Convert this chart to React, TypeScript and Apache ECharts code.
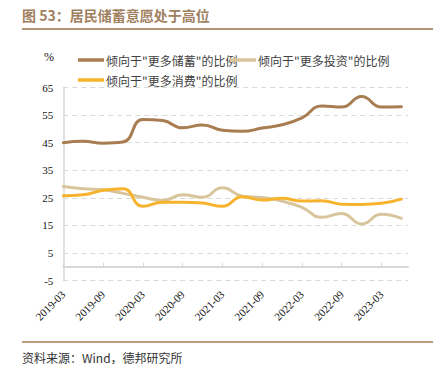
import React, { useEffect, useRef } from 'react';
import * as echarts from 'echarts';

const quarters = [
  '2019-03', '2019-06', '2019-09', '2019-12',
  '2020-03', '2020-06', '2020-09', '2020-12',
  '2021-03', '2021-06', '2021-09', '2021-12',
  '2022-03', '2022-06', '2022-09', '2022-12',
  '2023-03', '2023-06',
];
const tickLabels = [
  '2019-03', '2019-09', '2020-03', '2020-09', '2021-03',
  '2021-09', '2022-03', '2022-09', '2023-03',
];
const savingsValues = [45.0, 45.5, 44.8, 45.2, 53.4, 53.0, 50.4, 51.4, 49.5, 49.1, 50.3, 51.5, 54.0, 58.3, 57.9, 61.7, 57.9, 58.0];
const investValues = [29.1, 28.3, 27.9, 26.6, 25.2, 24.0, 26.1, 25.2, 28.6, 25.6, 25.1, 23.8, 21.5, 17.9, 19.3, 15.5, 19.0, 17.5];
const consumeValues = [25.7, 26.1, 27.7, 28.3, 21.9, 23.4, 23.4, 23.1, 21.9, 25.4, 24.2, 24.8, 23.8, 23.9, 22.7, 22.6, 23.0, 24.5];
const seriesNames = ['倾向于"更多储蓄"的比例', '倾向于"更多投资"的比例', '倾向于"更多消费"的比例'];
const seriesColors = ['#A87D52', '#D9C59C', '#F7B32E'];
const yTicksMin = -5;
const yTicksMax = 65;

const BASE_YEAR = 2019;
const BASE_MONTH = 3;
const monthOffset = (s: string) => {
  const [y, m] = s.split('-').map(Number);
  return (y - BASE_YEAR) * 12 + (m - BASE_MONTH);
};
const tickValues = tickLabels.map(monthOffset);
const CJK = '"Noto Sans CJK SC", "Noto Sans", sans-serif';
const SERIF = '"Liberation Serif", "DejaVu Serif", serif';

export default function App() {
  const ref = useRef<HTMLDivElement>(null);
  useEffect(() => {
    if (!ref.current) return;
    const chart = echarts.init(ref.current, undefined, { renderer: 'svg' });
    const values = [savingsValues, investValues, consumeValues];
    const legendPos = [
      { left: 78, top: 54 },
      { left: 230, top: 54 },
      { left: 78, top: 74 },
    ];
    chart.setOption({
      animation: false,
      backgroundColor: '#ffffff',
      grid: { left: 63.3, right: 32, top: 87.5, bottom: 94.5, containLabel: false },
      legend: seriesNames.map((name, i) => ({
        data: [name],
        left: legendPos[i].left,
        top: legendPos[i].top,
        icon: 'rect',
        itemWidth: 26,
        itemHeight: 3.5,
        padding: 0,
        textStyle: { fontFamily: CJK, fontSize: 12, color: '#404040', padding: [0, 0, 0, -3] },
        selectedMode: false,
      })),
      xAxis: {
        type: 'value',
        min: 0,
        max: 52,
        splitLine: { show: false },
        axisLine: { show: true, onZero: true, lineStyle: { color: '#D9D9D9', width: 2 } },
        axisTick: {
          show: true,
          inside: true,
          length: 4,
          customValues: tickValues,
          lineStyle: { color: '#D9D9D9', width: 1 },
        },
        axisLabel: {
          customValues: tickValues,
          rotate: 45,
          margin: 12,
          fontFamily: SERIF,
          fontSize: 11,
          color: '#111',
          formatter: (v: number) => {
            const i = tickValues.indexOf(v);
            return i >= 0 ? tickLabels[i] : '';
          },
        },
      },
      yAxis: {
        type: 'value',
        min: yTicksMin,
        max: yTicksMax,
        interval: 10,
        axisLine: { show: true, lineStyle: { color: '#D9D9D9', width: 1.5 } },
        axisTick: { show: false },
        splitLine: { show: true, lineStyle: { color: '#D9D9D9', type: [5, 4], width: 1 } },
        axisLabel: { fontFamily: SERIF, fontSize: 11, color: '#111', margin: 10 },
      },
      series: seriesNames.map((name, i) => ({
        name,
        type: 'line',
        smooth: 0.5,
        showSymbol: false,
        symbol: 'none',
        color: seriesColors[i],
        lineStyle: { width: 3, color: seriesColors[i], cap: 'round' },
        data: quarters.map((q, j) => [monthOffset(q), values[i][j]]),
      })),
      graphic: [
        {
          type: 'text',
          left: 22,
          top: 8,
          style: {
            text: '图 53：居民储蓄意愿处于高位',
            fill: '#A0805F',
            font: `bold 14px ${CJK}`,
          },
        },
        {
          type: 'line',
          shape: { x1: 22, y1: 29, x2: 433, y2: 29 },
          style: { stroke: '#B39373', lineWidth: 2 },
        },
        {
          type: 'text',
          left: 44,
          top: 51,
          style: { text: '%', fill: '#111', font: `12px ${SERIF}` },
        },
        {
          type: 'line',
          shape: { x1: 22, y1: 342, x2: 433, y2: 342 },
          style: { stroke: '#A67B52', lineWidth: 1.5 },
        },
        {
          type: 'text',
          left: 22,
          top: 351,
          style: { text: '资料来源：Wind，德邦研究所', fill: '#333', font: `12px ${CJK}` },
        },
      ],
    });
    return () => chart.dispose();
  }, []);
  return (
    <div
      ref={ref}
      style={{ position: 'absolute', left: 0, top: 0, width: 440, height: 375 }}
    />
  );
}
